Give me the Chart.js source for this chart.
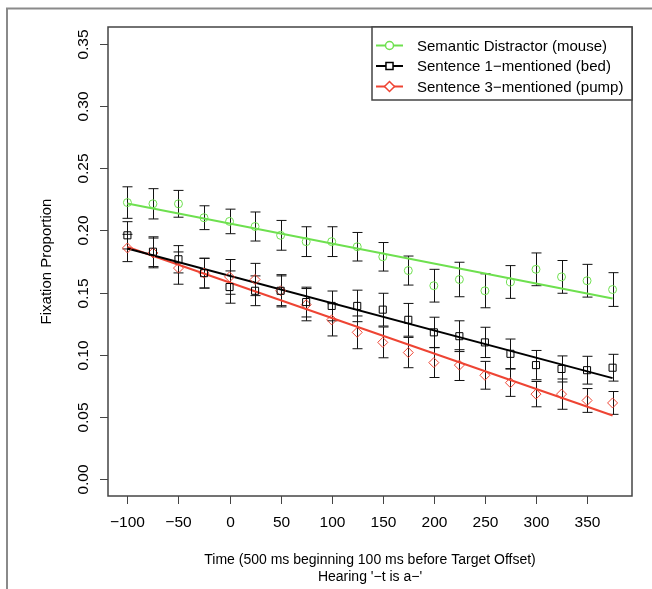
<!DOCTYPE html>
<html>
<head>
<meta charset="utf-8">
<script src="https://cdn.jsdelivr.net/npm/chart.js@4/dist/chart.umd.min.js"></script>
<style>
  body { margin: 0; background: #fff; }
  #chart { display: block; }
</style>
</head>
<body>
<canvas id="chart" width="652" height="589"></canvas>
<script>
// time bins (ms)
const times = [-100, -75, -50, -25, 0, 25, 50, 75, 100, 125, 150, 175, 200, 225, 250, 275, 300, 325, 350, 375];

const semantic = [0.2225, 0.2215, 0.2215, 0.2103, 0.2073, 0.2032, 0.1961, 0.1910, 0.1910, 0.1869, 0.1788, 0.1677, 0.1555, 0.1605, 0.1514, 0.1585, 0.1687, 0.1626, 0.1595, 0.1524];
const semanticErr = [0.0127, 0.0122, 0.0108, 0.0096, 0.0099, 0.0117, 0.012, 0.012, 0.012, 0.0115, 0.0115, 0.0117, 0.0132, 0.0139, 0.0137, 0.0132, 0.0132, 0.0132, 0.0132, 0.0136];

const sentence1 = [0.1961, 0.1829, 0.1768, 0.1656, 0.1544, 0.1514, 0.1514, 0.1423, 0.1392, 0.1392, 0.1362, 0.1280, 0.1179, 0.1148, 0.1098, 0.1006, 0.0915, 0.0884, 0.0874, 0.0894];
const sentence1Err = [0.011, 0.012, 0.011, 0.012, 0.013, 0.012, 0.012, 0.012, 0.012, 0.0127, 0.0132, 0.0132, 0.0122, 0.0124, 0.0122, 0.0119, 0.0118, 0.0105, 0.0112, 0.0108];

const sentence3 = [0.1859, 0.1819, 0.1697, 0.1656, 0.1626, 0.1605, 0.1514, 0.1402, 0.1280, 0.1179, 0.1098, 0.1016, 0.0935, 0.0915, 0.0833, 0.0773, 0.0681, 0.0681, 0.0630, 0.0610];
const sentence3Err = [0.011, 0.012, 0.013, 0.012, 0.014, 0.013, 0.013, 0.013, 0.013, 0.0132, 0.0124, 0.0122, 0.012, 0.0124, 0.0112, 0.011, 0.0102, 0.0122, 0.0096, 0.0092];

// fitted regression lines, read at the two ends
const fitTimes = [-100, 375];
const semanticFit = [0.2218, 0.1451];
const sentence1Fit = [0.1855, 0.0810];
const sentence3Fit = [0.1867, 0.0509];

const xTicks = [-100, -50, 0, 50, 100, 150, 200, 250, 300, 350];
const yTicks = [0, 0.05, 0.10, 0.15, 0.20, 0.25, 0.30, 0.35];

const labels = ['Semantic Distractor (mouse)', 'Sentence 1\u2212mentioned (bed)', 'Sentence 3\u2212mentioned (pump)'];

const GREEN = '#6ee04f';
const BLACK = '#000000';
const RED = '#ee4433';
const FONT = '"Liberation Sans", Arial, Helvetica, sans-serif';

const toPoints = (xs, ys) => xs.map((x, i) => ({ x: x, y: ys[i] }));
const fmtTick = v => (v < 0 ? '\u2212' + Math.abs(v) : String(v));

const markerSet = (label, values, color, style, radius) => ({
    label: label,
    data: toPoints(times, values),
    showLine: false,
    borderColor: color,
    backgroundColor: 'rgba(0,0,0,0)',
    pointBorderColor: color,
    pointBackgroundColor: 'rgba(0,0,0,0)',
    pointBorderWidth: 1,
    pointStyle: style,
    pointRadius: radius
});

const fitSet = (values, color) => ({
    data: toPoints(fitTimes, values),
    borderColor: color,
    borderWidth: 2,
    pointRadius: 0,
    fill: false
});

const errorSeries = [
    [semantic, semanticErr],
    [sentence1, sentence1Err],
    [sentence3, sentence3Err]
];

const errorBars = {
    id: 'errorBars',
    beforeDatasetsDraw(chart) {
        const { ctx, scales: { x, y } } = chart;
        ctx.save();
        ctx.strokeStyle = '#111';
        ctx.lineWidth = 1;
        errorSeries.forEach(([vals, errs]) => {
            vals.forEach((v, i) => {
                const px = Math.round(x.getPixelForValue(times[i])) + 0.5;
                const top = y.getPixelForValue(v + errs[i]);
                const bot = y.getPixelForValue(v - errs[i]);
                ctx.beginPath();
                ctx.moveTo(px, top); ctx.lineTo(px, bot);
                ctx.moveTo(px - 5, top); ctx.lineTo(px + 5, top);
                ctx.moveTo(px - 5, bot); ctx.lineTo(px + 5, bot);
                ctx.stroke();
            });
        });
        ctx.restore();
    }
};

const rAxes = {
    id: 'rAxes',
    afterDraw(chart) {
        const { ctx, chartArea: a, scales: { x, y } } = chart;
        ctx.save();

        // outer figure frame
        ctx.strokeStyle = '#8a8a8a';
        ctx.lineWidth = 2;
        ctx.beginPath();
        ctx.moveTo(7, 589); ctx.lineTo(7, 8.5); ctx.lineTo(652, 8.5);
        ctx.stroke();

        // plot box
        ctx.strokeStyle = '#444';
        ctx.lineWidth = 1.5;
        ctx.strokeRect(a.left, a.top, a.right - a.left, a.bottom - a.top);

        ctx.fillStyle = '#000';
        ctx.strokeStyle = '#444';
        ctx.lineWidth = 1;
        ctx.font = '15.5px ' + FONT;

        // x ticks
        ctx.textAlign = 'center';
        ctx.textBaseline = 'middle';
        xTicks.forEach(t => {
            const px = Math.round(x.getPixelForValue(t)) + 0.5;
            ctx.beginPath();
            ctx.moveTo(px, a.bottom); ctx.lineTo(px, a.bottom + 8);
            ctx.stroke();
            ctx.fillText(fmtTick(t), px, 523);
        });

        // y ticks, labels rotated as in R
        yTicks.forEach(t => {
            const py = Math.round(y.getPixelForValue(t)) + 0.5;
            ctx.beginPath();
            ctx.moveTo(a.left, py); ctx.lineTo(a.left - 8, py);
            ctx.stroke();
            ctx.save();
            ctx.translate(84, py);
            ctx.rotate(-Math.PI / 2);
            ctx.fillText(t.toFixed(2), 0, 0);
            ctx.restore();
        });

        // axis titles
        ctx.font = '14px ' + FONT;
        const cx = (a.left + a.right) / 2;
        ctx.fillText('Time (500 ms beginning 100 ms before Target Offset)', cx, 560);
        ctx.fillText('Hearing \'\u2212t is a\u2212\'', cx, 577);
        ctx.save();
        ctx.font = '15px ' + FONT;
        ctx.translate(47, (a.top + a.bottom) / 2);
        ctx.rotate(-Math.PI / 2);
        ctx.fillText('Fixation Proportion', 0, 0);
        ctx.restore();

        // legend box in the top right corner
        const lx = 372, ly = a.top, lw = a.right - lx, lh = 73;
        ctx.fillStyle = '#fff';
        ctx.fillRect(lx, ly, lw, lh);
        ctx.strokeStyle = '#444';
        ctx.lineWidth = 1.5;
        ctx.strokeRect(lx, ly, lw, lh);

        const items = [
            [GREEN, 'circle', 4],
            [BLACK, 'rect', 5],
            [RED, 'rectRot', 5]
        ];
        ctx.textAlign = 'left';
        ctx.font = '15px ' + FONT;
        items.forEach(([color, style, r], i) => {
            const yy = ly + 18.5 + i * 20.5;
            ctx.strokeStyle = color;
            ctx.lineWidth = 2;
            ctx.beginPath();
            ctx.moveTo(376, yy); ctx.lineTo(403, yy);
            ctx.stroke();
            ctx.lineWidth = 1.5;
            ctx.fillStyle = '#fff';
            Chart.helpers.drawPoint(ctx, { pointStyle: style, radius: r, borderWidth: 1.5 }, 389.5, yy);
            ctx.fillStyle = '#000';
            ctx.fillText(labels[i], 417, yy + 1);
        });

        ctx.restore();
    }
};

new Chart(document.getElementById('chart'), {
    type: 'line',
    data: {
        datasets: [
            markerSet(labels[0], semantic, GREEN, 'circle', 4),
            markerSet(labels[1], sentence1, BLACK, 'rect', 5),
            markerSet(labels[2], sentence3, RED, 'rectRot', 5),
            fitSet(semanticFit, GREEN),
            fitSet(sentence1Fit, BLACK),
            fitSet(sentence3Fit, RED)
        ]
    },
    options: {
        responsive: false,
        animation: false,
        layout: { padding: { left: 108, top: 27, right: 20, bottom: 93 } },
        plugins: {
            legend: { display: false },
            tooltip: { enabled: false }
        },
        scales: {
            x: { type: 'linear', min: -119, max: 394, display: false },
            y: { type: 'linear', min: -0.014, max: 0.364, display: false }
        }
    },
    plugins: [errorBars, rAxes]
});
</script>
</body>
</html>
